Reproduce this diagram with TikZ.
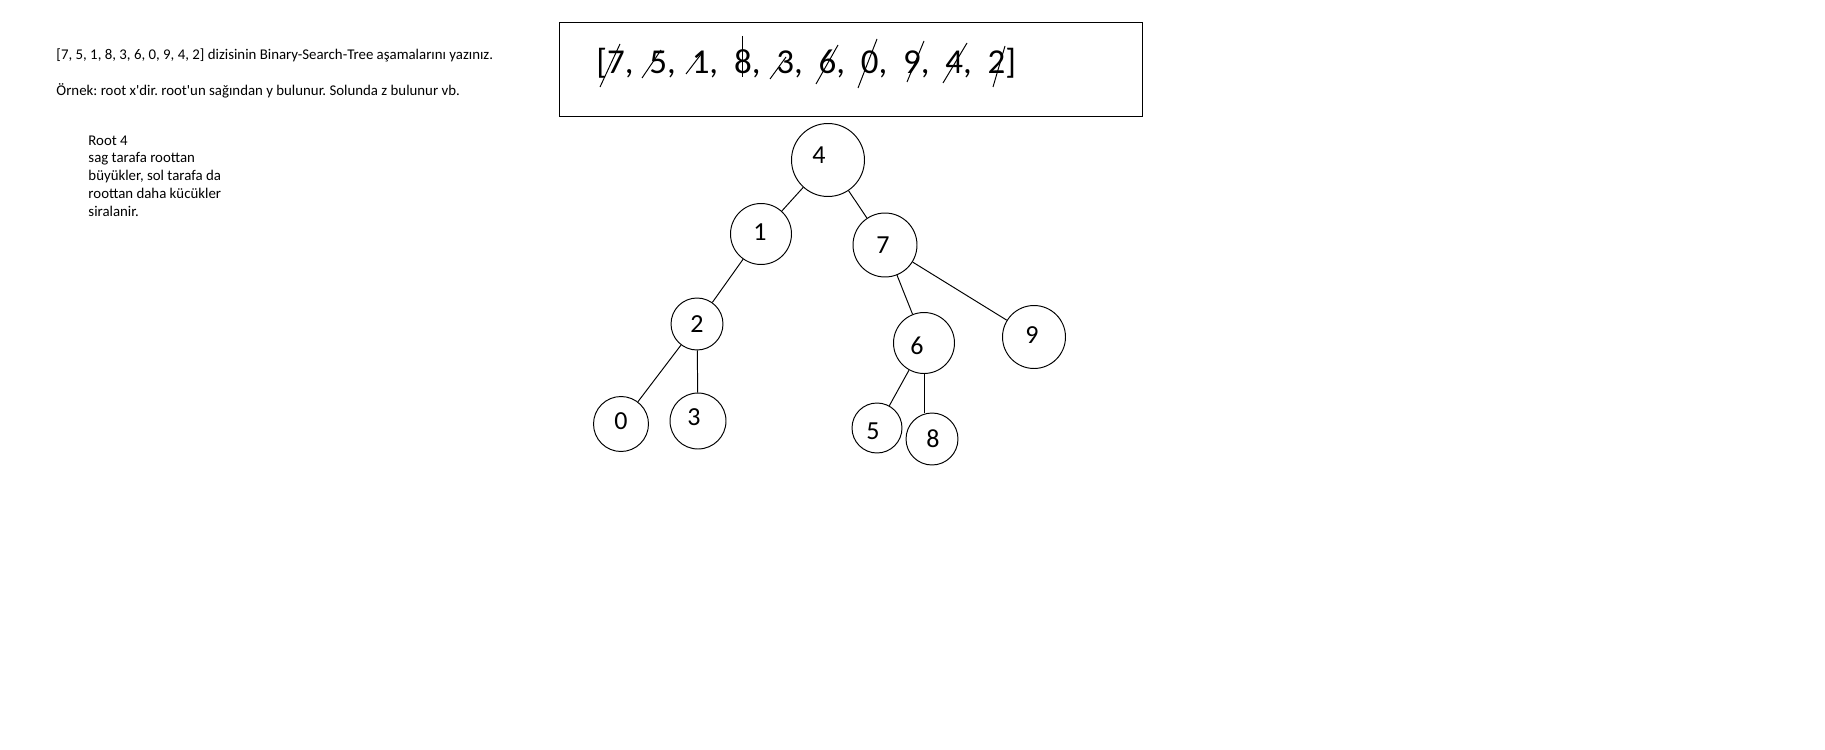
\documentclass[tikz,border=0pt]{standalone}
\usepackage{fontspec}
\setmainfont{Carlito}
\frenchspacing
\tikzset{
  vertex/.style={circle, draw, inner sep=0pt, minimum size=#1},
  digit/.style={inner sep=0pt, font=\fontsize{14.8}{17}\selectfont},
  note/.style={inner sep=0pt, font=\fontsize{8.45}{10.2}\selectfont},
  arraytext/.style={inner sep=0pt, font=\fontsize{19.9}{24}\selectfont}
}
\begin{document}
\begin{tikzpicture}[x=0.02cm, y=-0.02cm, line width=0.55pt]
  \useasboundingbox (0,0) rectangle (1825,750);
  % task text on the left
  \node [note, anchor=base west] (task) at (56,60)
    {[7, 5, 1, 8, 3, 6, 0, 9, 4, 2] dizisinin Binary-Search-Tree aşamalarını yazınız.};
  \node [note, anchor=base west] (example) at (56,95)
    {Örnek: root x\textquotesingle dir. root\textquotesingle un sağından y bulunur. Solunda z bulunur vb.};
  \node [note, anchor=north west, align=left] (rule) at (88,135)
    {Root 4\\sag tarafa roottan\\büyükler, sol tarafa da\\roottan daha kücükler\\siralanir.};
  % array, every value struck out
  \draw (559,22) rectangle (1142,116);
  \node [arraytext, anchor=base west] (array) at (596,73)
    {[7,~~5,~~1,~~8,~~3,~~6,~~0,~~9,~~4,~~2]};
  \foreach \xa/\ya/\xb/\yb in {600/87/620/44, 642/78/661/50, 686/74/702/53,
      742/36/742/77, 770/79/786/57, 816/84/838/45, 858/88/877/39,
      907/82/924/41, 943/83/967/43, 993/87/1005/46}
    \draw (\xa,\ya) -- (\xb,\yb);
  % the tree
  \node [vertex=1.46cm, label={[digit, shift={(-9,-5)}]center:4}] (n4) at (828,160) {};
  \node [vertex=1.22cm, label={[digit, shift={(-1,-2)}]center:1}] (n1) at (761,234) {};
  \node [vertex=1.28cm, label={[digit, shift={(-2,0)}]center:7}] (n7) at (885,245) {};
  \node [vertex=1.04cm, label={[digit]center:2}] (n2) at (697,324) {};
  \node [vertex=1.22cm, label={[digit, shift={(-7,3)}]center:6}] (n6) at (924,343) {};
  \node [vertex=1.26cm, label={[digit, shift={(-2,-2)}]center:9}] (n9) at (1034,337) {};
  \node [vertex=1.10cm, label={[digit, shift={(0,-3)}]center:0}] (n0) at (621,424) {};
  \node [vertex=1.12cm, label={[digit, shift={(-4,-4)}]center:3}] (n3) at (698,421) {};
  \node [vertex=1.00cm, label={[digit, shift={(-4,3)}]center:5}] (n5) at (877,428) {};
  \node [vertex=1.04cm, label={[digit, shift={(1,0)}]center:8}] (n8) at (932,439) {};
  \foreach \a/\b in {4/1, 4/7, 1/2, 2/0, 2/3, 7/6, 7/9, 6/5}
    \draw (n\a) -- (n\b);
  \draw (n6.south) -- (n6.south |- n8.north);
\end{tikzpicture}
\end{document}
